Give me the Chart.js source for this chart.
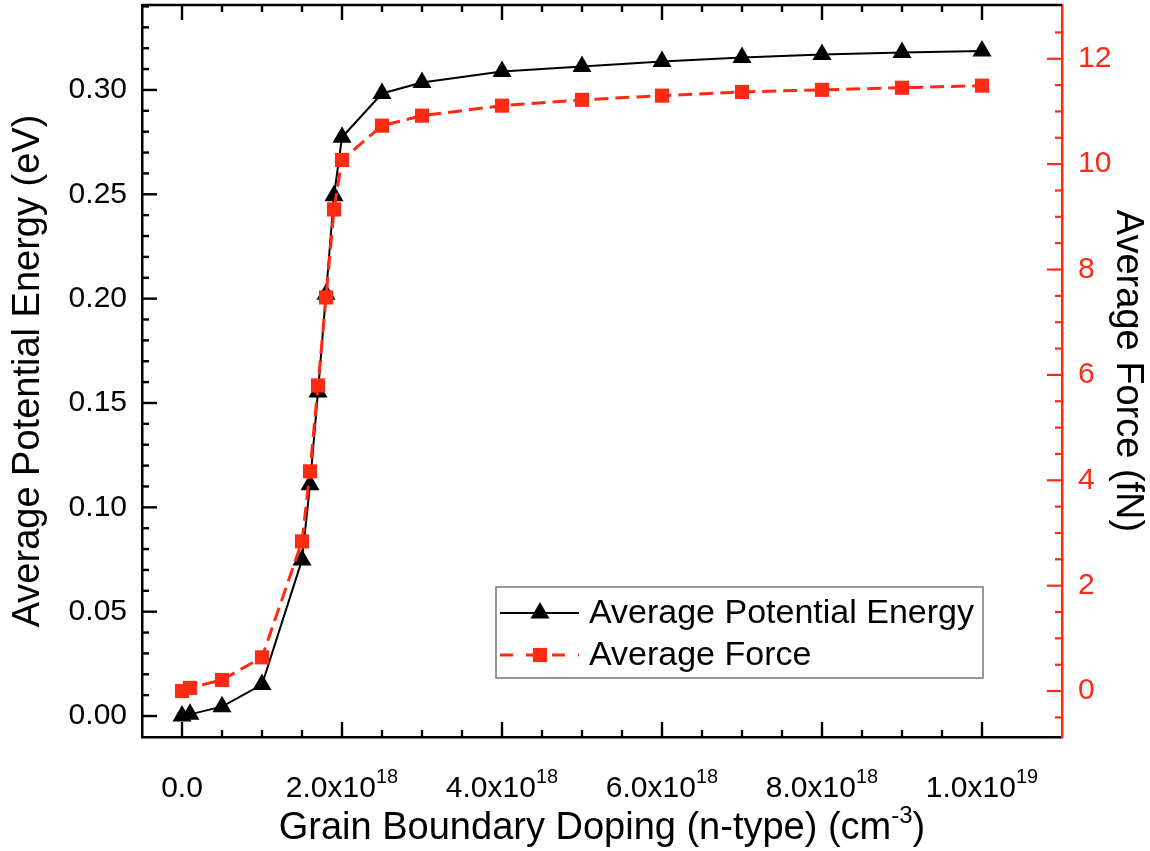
<!DOCTYPE html>
<html>
<head>
<meta charset="utf-8">
<script src="https://cdn.jsdelivr.net/npm/chart.js@4.4.0/dist/chart.umd.min.js"></script>
<style>
  body { margin: 0; background: #fff; }
  #wrap { width: 1150px; height: 851px; }
</style>
</head>
<body>
<div id="wrap"><canvas id="myChart"></canvas></div>
<script>
// grain boundary doping (cm^-3)
const doping = [0, 1e17, 5e17, 1e18, 1.5e18, 1.6e18, 1.7e18, 1.8e18, 1.9e18, 2e18,
  2.5e18, 3e18, 4e18, 5e18, 6e18, 7e18, 8e18, 9e18, 1e19];
// average potential energy (eV)
const energy = [0.0, 0.0008, 0.0045, 0.0151, 0.0748, 0.1108, 0.1553, 0.2021, 0.2493, 0.2773,
  0.2983, 0.3036, 0.3088, 0.3112, 0.3136, 0.3155, 0.3170, 0.3179, 0.3187];
// average force (fN)
const force = [0.0, 0.06, 0.21, 0.64, 2.84, 4.17, 5.80, 7.47, 9.14, 10.08,
  10.73, 10.92, 11.11, 11.22, 11.30, 11.37, 11.41, 11.45, 11.49];

const xTicks = [0, 2e18, 4e18, 6e18, 8e18, 1e19];
const xTickMain = ['0.0', '2.0x10', '4.0x10', '6.0x10', '8.0x10', '1.0x10'];
const xTickSup = ['', '18', '18', '18', '18', '19'];
const energyTicks = [0, 0.05, 0.10, 0.15, 0.20, 0.25, 0.30];
const forceTicks = [0, 2, 4, 6, 8, 10, 12];

const FONT = "'Liberation Sans', Arial, sans-serif";
const RED = '#ff2a14';

function seg(ctx, x1, y1, x2, y2, color, width) {
  ctx.beginPath();
  ctx.strokeStyle = color;
  ctx.lineWidth = width;
  ctx.moveTo(x1, y1);
  ctx.lineTo(x2, y2);
  ctx.stroke();
}

// inward ticks, tick labels, top frame and x title
const axisDecor = {
  id: 'axisDecor',
  afterDraw(chart) {
    const ctx = chart.ctx;
    const a = chart.chartArea;
    const sx = chart.scales.x, sy = chart.scales.y, sy1 = chart.scales.y1;
    ctx.save();
    ctx.setLineDash([]);
    seg(ctx, a.left, a.top, a.right, a.top, '#000', 2.5);

    for (let k = 1; k <= 21; k++) {
      const px = sx.getPixelForValue(-5e17 + k * 5e17);
      const len = (k - 1) % 4 === 0 ? 15 : 7;
      seg(ctx, px, a.bottom, px, a.bottom - len, '#000', 2.4);
      seg(ctx, px, a.top, px, a.top + len, '#000', 2.4);
    }
    for (let k = 0; k <= 34; k++) {
      const py = sy.getPixelForValue(k / 100);
      const len = k % 5 === 0 ? 15 : 7;
      seg(ctx, a.left, py, a.left + len, py, '#000', 2.4);
    }
    for (let k = -1; k <= 25; k++) {
      const py = sy1.getPixelForValue(k / 2);
      const len = k % 4 === 0 ? 15 : 7;
      seg(ctx, a.right, py, a.right - len, py, RED, 2.2);
    }

    // y tick labels
    ctx.font = '30px ' + FONT;
    ctx.textBaseline = 'middle';
    ctx.fillStyle = '#000';
    ctx.textAlign = 'right';
    energyTicks.forEach(v => ctx.fillText(v.toFixed(2), a.left - 15, sy.getPixelForValue(v)));
    ctx.fillStyle = RED;
    ctx.textAlign = 'left';
    forceTicks.forEach(v => ctx.fillText(String(v), a.right + 16, sy1.getPixelForValue(v)));

    // x tick labels with exponents
    ctx.fillStyle = '#000';
    ctx.textBaseline = 'alphabetic';
    xTicks.forEach((v, i) => {
      ctx.font = '30px ' + FONT;
      const w1 = ctx.measureText(xTickMain[i]).width;
      ctx.font = '20px ' + FONT;
      const w2 = ctx.measureText(xTickSup[i]).width;
      const x0 = sx.getPixelForValue(v) - (w1 + w2) / 2;
      ctx.font = '30px ' + FONT;
      ctx.fillText(xTickMain[i], x0, a.bottom + 60);
      ctx.font = '20px ' + FONT;
      ctx.fillText(xTickSup[i], x0 + w1, a.bottom + 46);
    });

    // x title
    const t1 = 'Grain Boundary Doping (n-type) (cm', t2 = '-3', t3 = ')';
    ctx.font = '38px ' + FONT;
    const w1 = ctx.measureText(t1).width, w3 = ctx.measureText(t3).width;
    ctx.font = '24px ' + FONT;
    const w2 = ctx.measureText(t2).width;
    let tx = (a.left + a.right) / 2 - (w1 + w2 + w3) / 2;
    const ty = a.bottom + 102;
    ctx.font = '38px ' + FONT;
    ctx.fillText(t1, tx, ty);
    ctx.font = '24px ' + FONT;
    ctx.fillText(t2, tx + w1, ty - 16);
    ctx.font = '38px ' + FONT;
    ctx.fillText(t3, tx + w1 + w2, ty);
    ctx.restore();
  }
};

// legend box in lower right of plot
const boxLegend = {
  id: 'boxLegend',
  afterDraw(chart) {
    const ctx = chart.ctx;
    const a = chart.chartArea;
    const w = 487, h = 91;
    const left = a.right - 79 - w, top = a.bottom - 59 - h;
    ctx.save();
    ctx.fillStyle = '#fff';
    ctx.fillRect(left, top, w, h);
    ctx.strokeStyle = '#777';
    ctx.lineWidth = 1.5;
    ctx.strokeRect(left, top, w, h);

    const rows = [
      { y: top + 26, color: '#000', width: 2, dash: [], style: 'triangle', r: 11, label: 'Average Potential Energy' },
      { y: top + 68, color: RED, width: 3, dash: [13, 13], style: 'rect', r: 10, label: 'Average Force' }
    ];
    rows.forEach(row => {
      ctx.strokeStyle = row.color;
      ctx.lineWidth = row.width;
      ctx.setLineDash(row.dash);
      ctx.beginPath();
      ctx.moveTo(left + 4, row.y);
      ctx.lineTo(left + 83, row.y);
      ctx.stroke();
      ctx.setLineDash([]);
      ctx.fillStyle = row.color;
      Chart.helpers.drawPoint(ctx, { pointStyle: row.style, radius: row.r, rotation: 0, borderWidth: 0 }, left + 44, row.y);
      ctx.fillStyle = '#000';
      ctx.font = '34px ' + FONT;
      ctx.textAlign = 'left';
      ctx.textBaseline = 'middle';
      ctx.fillText(row.label, left + 93, row.y + 1);
    });
    ctx.restore();
  }
};

const ctx = document.getElementById('myChart').getContext('2d');

const myChart = new Chart(ctx, {
  type: 'line',
  data: {
    datasets: [{
      label: 'Average Potential Energy',
      data: doping.map((d, i) => ({ x: d, y: energy[i] })),
      yAxisID: 'y',
      borderColor: '#000',
      backgroundColor: '#000',
      borderWidth: 2,
      pointStyle: 'triangle',
      pointRadius: 11,
      pointBorderWidth: 0,
      tension: 0,
      order: 1
    }, {
      label: 'Average Force',
      data: doping.map((d, i) => ({ x: d, y: force[i] })),
      yAxisID: 'y1',
      borderColor: RED,
      backgroundColor: RED,
      borderWidth: 3,
      borderDash: [14, 7],
      pointStyle: 'rect',
      pointRadius: 10,
      pointBorderWidth: 0,
      tension: 0,
      order: 0
    }]
  },
  options: {
    responsive: true,
    maintainAspectRatio: false,
    animation: false,
    layout: { autoPadding: false, padding: { top: 5, left: 0, right: 0, bottom: 0 } },
    plugins: {
      legend: { display: false },
      tooltip: { enabled: false }
    },
    scales: {
      x: {
        type: 'linear',
        min: -5e17,
        max: 1.1e19,
        grid: { display: false },
        border: { display: true, color: '#000', width: 2.5 },
        ticks: { display: false },
        afterFit: s => { s.height = 114; }
      },
      y: {
        type: 'linear',
        position: 'left',
        min: -0.01005,
        max: 0.3407,
        grid: { display: false },
        border: { display: true, color: '#000', width: 2.5 },
        ticks: { display: false },
        title: {
          display: true,
          text: 'Average Potential Energy (eV)',
          color: '#000',
          font: { family: FONT, size: 38 },
          padding: { top: 6, bottom: 0 }
        },
        afterFit: s => { s.width = 142; }
      },
      y1: {
        type: 'linear',
        position: 'right',
        min: -0.872,
        max: 13.02,
        grid: { display: false },
        border: { display: true, color: RED, width: 2.5 },
        ticks: { display: false },
        title: {
          display: true,
          text: 'Average Force (fN)',
          color: '#000',
          font: { family: FONT, size: 38 },
          padding: { top: 0, bottom: 0 }
        },
        afterFit: s => { s.width = 88; }
      }
    }
  },
  plugins: [axisDecor, boxLegend]
});
</script>
</body>
</html>
